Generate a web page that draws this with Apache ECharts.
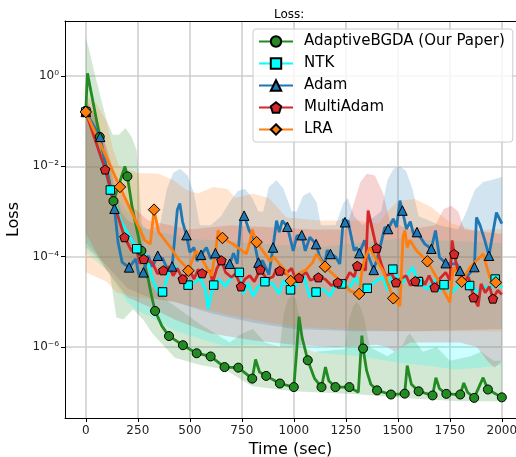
<!DOCTYPE html>
<html>
<head>
<meta charset="utf-8">
<script src="https://cdn.jsdelivr.net/npm/echarts@6/dist/echarts.min.js"></script>
<style>
  html, body { margin: 0; padding: 0; background: #fff; }
  #chart { width: 516px; height: 457px; }
</style>
</head>
<body>
<div id="chart"></div>
<script>
// ---- values: [time (sec), loss] ----
const xTickValues = [0, 250, 500, 750, 1000, 1250, 1500, 1750, 2000];
const yTickValues = [1e-6, 1e-4, 1e-2, 1];
const seriesNames = ['AdaptiveBGDA (Our Paper)', 'NTK', 'Adam', 'MultiAdam', 'LRA'];

// AdaptiveBGDA (green)
const adaptiveMarks = [[0,0.17],[67,0.045],[133,1.7e-3],[200,6e-3],[267,1.35e-4],[333,6.3e-6],[400,1.75e-6],[467,1.1e-6],[533,7.3e-7],[600,6.2e-7],[667,3.6e-7],[733,3.5e-7],[800,2.0e-7],[867,2.3e-7],[933,1.56e-7],[1000,1.3e-7],[1067,5.1e-7],[1133,1.3e-7],[1200,1.3e-7],[1267,1.3e-7],[1333,9.3e-7],[1400,1.1e-7],[1467,8.9e-8],[1533,9.3e-8],[1600,1.05e-7],[1667,8.5e-8],[1733,9.2e-8],[1800,8.9e-8],[1867,7.5e-8],[1933,1.15e-7],[2000,7.7e-8]];
const adaptiveLine = [[8,1.15],[188,1.0e-2],[222,1.3e-3],[300,3.2e-5],[316,1.35e-5],[366,2.9e-6],[816,5.3e-7],[835,2.8e-7],[1012,6.5e-7],[1025,4.7e-6],[1040,1.6e-6],[1100,2.0e-7],[1152,3.6e-7],[1168,1.8e-7],[1310,1.0e-7],[1327,1.8e-6],[1350,3.0e-7],[1370,1.5e-7],[1545,3.9e-7],[1565,1.5e-7],[1683,2.1e-7],[1700,1.2e-7],[1817,1.6e-7],[1835,1.0e-7],[1910,2.1e-7]];
const adaptiveBandHigh = [[0,6.9],[15,4.0],[40,1.26],[70,0.355],[100,0.105],[130,0.05],[160,0.05],[190,0.071],[220,0.045],[244,0.023],[252,7.9e-3],[265,1e-3],[280,1e-4],[300,2.5e-5],[400,1e-5],[550,3.2e-6],[692,1.26e-6],[750,2.0e-6],[804,2.5e-6],[860,1.26e-6],[933,1e-6],[950,5e-6],[970,1.12e-5],[990,1.41e-5],[1010,1.12e-5],[1025,5e-6],[1038,1e-6],[1100,7.9e-7],[1245,8.9e-7],[1265,4e-6],[1285,7.9e-6],[1301,1e-5],[1320,7.9e-6],[1340,4e-6],[1365,1e-6],[1450,6.3e-7],[1520,1e-6],[1545,1.78e-6],[1558,2e-6],[1580,1.41e-6],[1620,7.9e-7],[1686,1e-6],[1750,5e-7],[1850,6.3e-7],[1900,7.9e-7],[1960,5e-7],[2000,5e-7]];
const adaptiveBandLow = [[0,1.6e-4],[50,1e-4],[100,5e-5],[115,4.5e-5],[147,4.5e-6],[180,4.1e-6],[228,6.9e-6],[276,4e-6],[320,2e-6],[428,5.8e-7],[550,4e-7],[668,3.2e-7],[800,1.35e-7],[1000,1.05e-7],[1300,9e-8],[1600,7.1e-8],[1800,6.3e-8],[2000,6.3e-8]];

// NTK (cyan)
const ntkMarks = [[0,0.16],[118,3.0e-3],[245,1.5e-4],[369,1.66e-5],[492,2.35e-5],[615,2.35e-5],[738,4.5e-5],[861,2.8e-5],[984,1.85e-5],[1107,1.65e-5],[1230,2.5e-5],[1353,2.0e-5],[1476,5.3e-5],[1599,2.8e-5],[1722,2.4e-5],[1845,2.3e-5],[1968,3.2e-5]];
const ntkLine = [[43,4.5e-2],[171,5.8e-4],[292,1.05e-4],[320,3.2e-5],[345,1.75e-5],[400,4.5e-5],[428,6.3e-5],[460,3.8e-5],[520,2.6e-5],[550,3.3e-5],[575,1.9e-5],[588,7.0e-6],[600,1.3e-5],[640,3.2e-5],[670,2.2e-5],[700,3.5e-5],[757,1.5e-5],[780,2.6e-5],[804,1.35e-5],[830,2.2e-5],[900,2.5e-5],[930,1.5e-5],[950,3.0e-5],[1010,2.3e-5],[1040,4.9e-5],[1077,1.26e-5],[1140,1.9e-5],[1175,1.35e-5],[1200,2.4e-5],[1269,2.1e-5],[1300,3.5e-5],[1330,1.6e-5],[1400,3.0e-5],[1429,3.5e-5],[1450,1.8e-5],[1520,2.5e-5],[1550,4.2e-5],[1571,5.8e-5],[1640,1.9e-5],[1680,3.2e-5],[1700,1.7e-5],[1760,1.6e-5],[1800,2.6e-5],[1880,1.7e-5],[1920,2.2e-5],[1945,1.9e-5],[2000,2.1e-5]];
const ntkBandHigh = [[0,0.25],[50,0.1],[100,0.0126],[150,2e-3],[200,1e-3],[300,4e-4],[500,2.5e-4],[800,2e-4],[1100,1.6e-4],[1500,2.5e-4],[2000,2e-4]];
const ntkBandLow = [[0,1.26e-4],[100,5e-5],[200,1e-5],[250,6.3e-6],[300,5e-6],[428,2.3e-6],[588,1.35e-6],[668,1.05e-6],[800,1.12e-6],[1045,9.8e-7],[1125,7.4e-7],[1317,6.3e-7],[1502,4.5e-7],[1660,3.8e-7],[1774,3.2e-7],[1900,3.5e-7],[2000,4e-7]];

// Adam (blue)
const adamMarks = [[0,0.16],[69,0.045],[138,1.15e-3],[208,5.8e-5],[277,4.5e-5],[346,1.05e-4],[415,6.1e-5],[484,3.0e-4],[554,1.1e-4],[623,1.2e-4],[692,7.0e-5],[761,8.1e-4],[830,7.4e-5],[900,1.6e-4],[969,4.6e-4],[1038,3.0e-4],[1107,1.9e-4],[1176,1.15e-4],[1246,5.8e-4],[1315,1.2e-4],[1384,5.1e-5],[1453,4.1e-4],[1522,1.05e-3],[1592,3.5e-4],[1661,1.5e-4],[1730,7.2e-5],[1799,4.9e-5],[1868,5.9e-5],[1938,1.05e-4]];
const adamLine = [[155,2.1e-4],[175,7.5e-5],[240,9.0e-5],[255,4.0e-5],[300,1.05e-4],[320,6.0e-5],[370,9.0e-5],[395,5.0e-5],[440,1.1e-3],[452,1.5e-3],[465,6.0e-4],[500,1.25e-4],[520,1.6e-4],[535,8.0e-5],[580,1.6e-4],[600,9.0e-5],[650,9.7e-5],[670,6.0e-5],[710,1.2e-4],[728,7.0e-5],[745,6.3e-4],[785,3.8e-4],[805,2.7e-4],[850,8.1e-5],[880,4.0e-5],[917,6.3e-4],[930,3.5e-4],[945,6.3e-4],[997,1.35e-4],[1015,2.9e-4],[1055,1.35e-4],[1077,2.7e-4],[1125,9.7e-5],[1149,6.9e-5],[1160,1.4e-4],[1200,1.0e-4],[1221,6.9e-5],[1238,6.9e-4],[1260,6.3e-4],[1290,1.35e-4],[1300,1.6e-4],[1340,2.3e-4],[1360,1.0e-4],[1410,1.3e-4],[1437,4.5e-4],[1478,6.9e-4],[1494,4.5e-4],[1510,1.75e-3],[1541,4.1e-4],[1560,6.0e-4],[1575,3.2e-4],[1630,1.9e-4],[1681,3.8e-4],[1700,9.7e-5],[1760,6.9e-5],[1783,7.0e-5],[1830,3.5e-5],[1878,7.4e-4],[1895,5.0e-4],[1918,2.3e-4],[1974,9.5e-4],[2000,5.4e-4]];
const adamBandHigh = [[0,0.28],[50,0.126],[100,0.025],[140,3.2e-3],[170,1e-3],[200,6.3e-4],[250,5e-4],[300,4e-4],[356,5e-4],[390,3.2e-3],[420,7.1e-3],[452,8.9e-3],[490,6.3e-3],[520,2.5e-3],[548,5e-4],[600,5e-4],[650,7.9e-4],[690,1.58e-3],[730,2.8e-3],[764,3.2e-3],[800,2e-3],[830,1e-3],[853,1e-3],[880,3.5e-3],[917,5e-3],[950,3.2e-3],[990,1e-3],[1013,1e-3],[1045,2.24e-3],[1077,2.7e-3],[1110,1.58e-3],[1130,5e-4],[1200,5e-4],[1240,1.58e-3],[1260,2e-3],[1290,7.9e-4],[1330,5e-4],[1420,1e-3],[1450,5e-3],[1480,8.9e-3],[1510,0.01],[1540,7.9e-3],[1570,3.2e-3],[1600,7.9e-4],[1650,6.3e-4],[1700,5e-4],[1790,4e-4],[1830,1e-3],[1870,3e-3],[1910,4.5e-3],[1950,5e-3],[2000,5.8e-3]];
const adamBandLow = [[0,2e-4],[100,6.3e-5],[200,2e-5],[300,1.26e-5],[430,1e-5],[600,5.6e-6],[800,3.5e-6],[1000,2.5e-6],[1300,2.24e-6],[1600,2.24e-6],[2000,2.5e-6]];

// MultiAdam (red)
const multiAdamMarks = [[0,0.16],[93,8.5e-3],[186,2.7e-4],[279,8.9e-5],[372,5.0e-5],[466,3.2e-5],[559,4.3e-5],[652,8.3e-5],[746,2.2e-5],[839,5.2e-5],[932,4.9e-5],[1025,3.4e-5],[1118,3.5e-5],[1211,2.7e-5],[1305,6.3e-5],[1398,1.55e-4],[1491,2.7e-5],[1584,2.9e-5],[1677,2.1e-5],[1771,1.15e-4],[1864,1.26e-5],[1957,1.18e-5]];
const multiAdamLine = [[139,1.35e-3],[220,1.35e-4],[240,1.7e-4],[260,7.0e-5],[320,7.4e-5],[345,4.2e-5],[400,6.0e-5],[420,3.8e-5],[440,5.5e-5],[500,5.0e-5],[520,3.2e-5],[540,5.2e-5],[596,4.9e-5],[610,2.7e-5],[630,5.5e-5],[672,4.5e-5],[700,3.5e-5],[720,4.2e-5],[765,3.2e-5],[788,3.8e-5],[810,2.8e-5],[870,3.2e-5],[900,3.6e-5],[917,5.4e-5],[960,4.2e-5],[990,5.5e-5],[1005,3.6e-5],[1060,4.5e-5],[1080,3.0e-5],[1100,3.3e-5],[1150,3.2e-5],[1181,2.3e-5],[1240,2.5e-5],[1269,4.5e-5],[1290,3.6e-5],[1345,5.0e-5],[1357,1.05e-3],[1420,7.0e-5],[1440,3.8e-5],[1470,4.2e-5],[1510,3.2e-5],[1540,3.8e-5],[1560,2.3e-5],[1610,3.5e-5],[1630,2.4e-5],[1650,3.8e-5],[1700,3.2e-5],[1730,4.5e-5],[1750,3.0e-5],[1761,2.3e-4],[1790,4.5e-5],[1820,3.0e-5],[1840,3.5e-5],[1886,8.0e-6],[1900,2.5e-5],[1920,1.6e-5],[1940,2.2e-5],[1980,1.8e-5],[2000,1.45e-5]];
const multiAdamBandHigh = [[0,0.32],[50,0.126],[100,0.025],[150,5e-3],[200,1.58e-3],[300,6.3e-4],[500,4e-4],[700,5e-4],[1100,4e-4],[1250,4e-4],[1290,1.58e-3],[1320,4.5e-3],[1350,6.9e-3],[1390,6.3e-3],[1430,2.5e-3],[1460,6.3e-4],[1550,4e-4],[1680,5e-4],[1720,1.12e-3],[1758,1.35e-3],[1790,1e-3],[1820,4e-4],[2000,3.2e-4]];
const multiAdamBandLow = [[0,3.2e-4],[100,5e-5],[200,1.26e-5],[300,7.9e-6],[430,4e-6],[600,2e-6],[800,1.41e-6],[1000,1.12e-6],[1200,1e-6],[1400,1.12e-6],[1450,1e-6],[1485,7.9e-7],[1520,1e-6],[1560,1.26e-6],[1800,1.26e-6],[1880,1e-6],[1930,5e-7],[1965,3.5e-7],[2000,5e-7]];

// LRA (orange)
const lraMarks = [[0,0.16],[164,3.5e-3],[328,1.1e-3],[493,4.9e-5],[657,2.6e-4],[821,2.1e-4],[985,2.9e-5],[1150,6.0e-5],[1314,1.5e-5],[1478,1.2e-5],[1642,7.9e-5],[1807,2.8e-5],[1971,2.7e-5]];
const lraLine = [[284,2.3e-4],[310,1.9e-4],[350,3.5e-4],[412,1.5e-4],[444,8.9e-5],[476,6.3e-5],[530,1.35e-4],[560,8.5e-5],[604,3.8e-5],[625,1.4e-4],[636,3.8e-4],[708,1.9e-4],[772,1.15e-4],[790,2.2e-4],[800,4.0e-4],[885,8.1e-5],[905,9.8e-5],[930,6.9e-5],[960,5.0e-5],[1020,4.2e-5],[1060,5.2e-5],[1090,7.4e-5],[1109,1.15e-4],[1205,3.5e-5],[1240,2.6e-5],[1269,1.75e-5],[1330,6.0e-5],[1341,8.9e-5],[1365,1.6e-4],[1400,8.0e-5],[1429,4.9e-5],[1510,8.1e-6],[1525,2.8e-4],[1534,3.8e-4],[1545,1.6e-4],[1558,2.3e-4],[1590,1.35e-4],[1686,3.5e-5],[1750,9.8e-6],[1766,5.8e-5],[1790,4.0e-5],[1846,5.8e-5],[1910,1.15e-4],[1942,3.5e-5],[2000,2.5e-5]];
const lraBandHigh = [[0,0.355],[50,0.25],[100,0.1],[130,0.025],[160,0.01],[250,7.1e-3],[350,6.9e-3],[420,5e-3],[484,3e-3],[540,2.5e-3],[612,3.5e-3],[680,3.2e-3],[720,2e-3],[800,2.5e-3],[880,2e-3],[965,7.4e-4],[1125,6.3e-4],[1317,6.3e-4],[1405,5.4e-4],[1450,1e-3],[1502,1.74e-3],[1582,1.9e-3],[1660,1.26e-3],[1758,5.4e-4],[1870,3.8e-4],[2000,4.1e-4]];
const lraBandLow = [[0,4.5e-5],[100,2.8e-5],[150,1.6e-5],[250,1.26e-5],[430,1e-5],[600,6.3e-6],[800,4e-6],[1000,2.8e-6],[1200,2.5e-6],[1500,2.24e-6],[2000,2.24e-6]];

// ---- styles ----
const FONT = 'DejaVu Sans';
const pentagon = 'path://M0,-10L9.51,-3.09L5.88,8.09L-5.88,8.09L-9.51,-3.09Z';

const methods = [
  { line: adaptiveLine, marks: adaptiveMarks, low: adaptiveBandLow, high: adaptiveBandHigh, color: '#228b22', band: 'rgba(34,139,34,0.2)', symbol: 'circle', size: 9 },
  { line: ntkLine, marks: ntkMarks, low: ntkBandLow, high: ntkBandHigh, color: '#00ffff', band: 'rgba(0,255,255,0.2)', symbol: 'rect', size: 8.5 },
  { line: adamLine, marks: adamMarks, low: adamBandLow, high: adamBandHigh, color: '#1f77b4', band: 'rgba(31,119,180,0.2)', symbol: 'triangle', size: 9.5 },
  { line: multiAdamLine, marks: multiAdamMarks, low: multiAdamBandLow, high: multiAdamBandHigh, color: '#d62728', band: 'rgba(214,39,40,0.2)', symbol: pentagon, size: 9.5 },
  { line: lraLine, marks: lraMarks, low: lraBandLow, high: lraBandHigh, color: '#ff7f0e', band: 'rgba(255,127,14,0.2)', symbol: 'diamond', size: 11.5 }
];

// line points without marker + marker points, sorted by time
function mergeLine(line, marks) {
  const pts = line.map(p => ({ value: p, symbol: 'none' }))
    .concat(marks.map(p => ({ value: p })));
  pts.sort((a, b) => a.value[0] - b.value[0]);
  return pts;
}

const supDigits = { '-': '\u207B', '0': '\u2070', '1': '\u00B9', '2': '\u00B2', '3': '\u00B3', '4': '\u2074', '5': '\u2075', '6': '\u2076', '7': '\u2077', '8': '\u2078', '9': '\u2079' };
function powLabel(v) {
  const e = Math.round(Math.log10(v));
  return '10' + String(e).split('').map(c => supDigits[c]).join('');
}

const bandSeries = methods.map(m => ({
  type: 'custom',
  silent: true,
  clip: true,
  z: 1,
  data: [[0, 1e-3]],
  renderItem: function (params, api) {
    if (params.dataIndex !== 0) return;
    const pts = m.high.map(p => api.coord(p))
      .concat(m.low.slice().reverse().map(p => api.coord(p)));
    return { type: 'polygon', shape: { points: pts }, style: { fill: m.band } };
  }
}));

const lineSeries = methods.map((m, i) => ({
  type: 'line',
  name: seriesNames[i],
  z: 3,
  data: mergeLine(m.line, m.marks),
  symbol: m.symbol,
  symbolSize: m.size,
  symbolKeepAspect: true,
  showSymbol: true,
  showAllSymbol: true,
  lineStyle: { color: m.color, width: 2.8 },
  itemStyle: { color: m.color, borderColor: '#000', borderWidth: 1 },
  emphasis: { disabled: true }
}));

const chart = echarts.init(document.getElementById('chart'));
chart.setOption({
  animation: false,
  backgroundColor: '#fff',
  title: {
    text: 'Loss:', left: 269, top: 4,
    textStyle: { fontFamily: FONT, fontSize: 12, fontWeight: 'normal', color: '#000' }
  },
  legend: {
    data: seriesNames,
    orient: 'vertical',
    left: 253, top: 29,
    itemWidth: 34, itemHeight: 13, itemGap: 7,
    padding: [5, 8, 5, 5],
    backgroundColor: 'rgba(255,255,255,0.8)',
    borderColor: '#cccccc', borderWidth: 1, borderRadius: 3,
    selectedMode: false,
    textStyle: { fontFamily: FONT, fontSize: 15, color: '#000', padding: [0, 0, 0, 6] }
  },
  grid: { left: 65, right: 0, top: 21, bottom: 39, containLabel: false, outerBoundsMode: 'none' },
  xAxis: [{
    type: 'value', min: -100, max: 2068,
    name: 'Time (sec)', nameLocation: 'middle', nameGap: 22,
    nameTextStyle: { fontFamily: FONT, fontSize: 16, color: '#000' },
    axisLine: { onZero: false, lineStyle: { color: '#000', width: 1 } },
    axisTick: { customValues: xTickValues, length: 4, lineStyle: { color: '#000' } },
    axisLabel: { customValues: xTickValues, formatter: v => String(v), margin: 7, fontFamily: FONT, fontSize: 12, color: '#222' },
    splitLine: { show: true, lineStyle: { color: '#cfcfcf', width: 1.6 } }
  }, {
    type: 'value', position: 'top', min: -100, max: 2068,
    axisLine: { show: true, onZero: false, lineStyle: { color: '#000', width: 1 } },
    axisTick: { show: false }, axisLabel: { show: false }, splitLine: { show: false }
  }],
  yAxis: {
    type: 'log', logBase: 10, min: 2.69e-8, max: 16.5,
    name: 'Loss', nameLocation: 'middle', nameGap: 42,
    nameTextStyle: { fontFamily: FONT, fontSize: 16, color: '#000' },
    axisLine: { show: true, onZero: false, lineStyle: { color: '#000', width: 1 } },
    axisTick: { show: true, customValues: yTickValues, length: 4, lineStyle: { color: '#000' } },
    axisLabel: { customValues: yTickValues, formatter: powLabel, margin: 6, fontFamily: FONT, fontSize: 12, color: '#222' },
    minorTick: { show: false },
    splitLine: { show: true, lineStyle: { color: '#cfcfcf', width: 1.6 } }
  },
  series: bandSeries.concat(lineSeries)
});
</script>
</body>
</html>
